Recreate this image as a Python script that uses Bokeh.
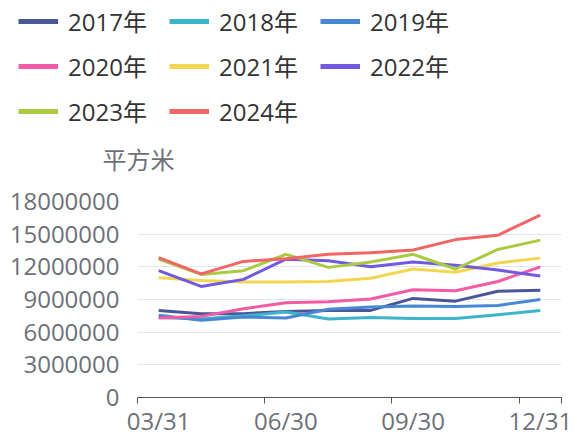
from bokeh.plotting import figure
from bokeh.layouts import column
from bokeh.models import (Range1d, FixedTicker, Legend, LegendItem, Label,
                          BasicTickFormatter)
from bokeh.embed import file_html
from bokeh.resources import INLINE

# ---- data (values in square metres) ----
dates = ["03/31", "04/30", "05/31", "06/30", "07/31", "08/31", "09/30", "10/31", "11/30", "12/31"]
years = ["2017年", "2018年", "2019年", "2020年", "2021年", "2022年", "2023年", "2024年"]
s2017 = [8000000, 7700000, 7700000, 7900000, 8000000, 8000000, 9100000, 8850000, 9750000, 9850000]
s2018 = [7350000, 7200000, 7500000, 7850000, 7200000, 7350000, 7250000, 7250000, 7600000, 8000000]
s2019 = [7550000, 7100000, 7400000, 7300000, 8100000, 8300000, 8400000, 8350000, 8450000, 9000000]
s2020 = [7300000, 7450000, 8150000, 8700000, 8800000, 9050000, 9900000, 9800000, 10650000, 12000000]
s2021 = [11000000, 10750000, 10600000, 10600000, 10650000, 10950000, 11800000, 11500000, 12350000, 12800000]
s2022 = [11650000, 10200000, 10850000, 12700000, 12550000, 12000000, 12450000, 12150000, 11700000, 11150000]
s2023 = [12700000, 11300000, 11650000, 13150000, 11950000, 12450000, 13150000, 11800000, 13600000, 14450000]
s2024 = [12850000, 11350000, 12500000, 12750000, 13150000, 13300000, 13550000, 14500000, 14900000, 16750000]
series = [s2017, s2018, s2019, s2020, s2021, s2022, s2023, s2024]
colors = ["#4A5796", "#3CB4CC", "#4688D4", "#F35BA6", "#F2D650", "#7259E0", "#A9CB42", "#F26565"]
y_ticks = [0, 3000000, 6000000, 9000000, 12000000, 15000000, 18000000]
x_label_idx = [0, 3, 6, 9]
unit = "平方米"

FONT = "'Open Sans', 'Noto Sans CJK SC', sans-serif"
AXIS_COLOR = "#6E7079"
W = 578
TOP_H = 180
MAIN_H = 439 - TOP_H
xs = list(range(len(dates)))

# ---------- header figure: legend + unit name ----------
top = figure(width=W, height=TOP_H, output_backend="svg", toolbar_location=None,
             x_range=Range1d(-0.5, len(dates) - 0.5), y_range=Range1d(0, 1),
             x_axis_type=None, y_axis_type=None,
             min_border_left=0, min_border_right=0, min_border_top=0, min_border_bottom=0)
top.frame_align = False
top.outline_line_color = None
top.grid.visible = False

# same series, plotted far outside this header's y range: only their legend icons show
items = []
for name, ser, c in zip(years, series, colors):
    r = top.line(xs, ser, line_color=c, line_width=5)
    items.append(LegendItem(label=name, renderers=[r]))

legend = Legend(items=items, orientation="horizontal", ncols=3,
                location=(18, 52), glyph_width=40, glyph_height=34,
                label_height=34, label_width=91, label_standoff=10, spacing=10,
                padding=0, margin=0, border_line_color=None, background_fill_alpha=0,
                label_text_font=FONT, label_text_font_size="24px", label_text_color="#333333")
top.add_layout(legend, "center")

top.add_layout(Label(x=102, y=TOP_H - 159, x_units="screen", y_units="screen", text=unit,
                     text_font=FONT, text_font_size="24px", text_color=AXIS_COLOR,
                     text_baseline="middle", text_align="left"))

# ---------- main chart ----------
p = figure(width=W, height=MAIN_H, output_backend="svg", toolbar_location=None,
           x_range=Range1d(-0.5, len(dates) - 0.5), y_range=Range1d(0, 18000000),
           min_border_left=137, min_border_right=17, min_border_top=201 - TOP_H,
           min_border_bottom=42)
p.frame_align = False
p.outline_line_color = None

for ser, c in zip(series, colors):
    p.line(xs, ser, line_color=c, line_width=3, line_join="round")

xa = p.xaxis[0]
xa.ticker = FixedTicker(ticks=x_label_idx, minor_ticks=[-0.5, 2.5, 5.5, 8.5, 9.5])
xa.major_label_overrides = {i: dates[i] for i in x_label_idx}
xa.major_tick_out = 0
xa.major_tick_in = 0
xa.minor_tick_out = 6
xa.minor_tick_in = 0
xa.minor_tick_line_color = "#555555"
xa.axis_line_color = "#555555"
xa.major_label_text_font = FONT
xa.major_label_text_font_size = "24px"
xa.major_label_text_color = AXIS_COLOR
xa.major_label_standoff = 0

ya = p.yaxis[0]
ya.ticker = FixedTicker(ticks=y_ticks)
ya.formatter = BasicTickFormatter(use_scientific=False)
ya.axis_line_color = None
ya.major_tick_line_color = None
ya.minor_tick_line_color = None
ya.major_tick_out = 0
ya.major_label_text_font = FONT
ya.major_label_text_font_size = "24px"
ya.major_label_text_color = AXIS_COLOR
ya.major_label_standoff = 18

p.xgrid.grid_line_color = None
p.ygrid.grid_line_color = "#E0E6F1"
p.ygrid.grid_line_width = 1

layout = column(top, p, spacing=0)
open("out.html", "w").write(file_html(layout, INLINE))
